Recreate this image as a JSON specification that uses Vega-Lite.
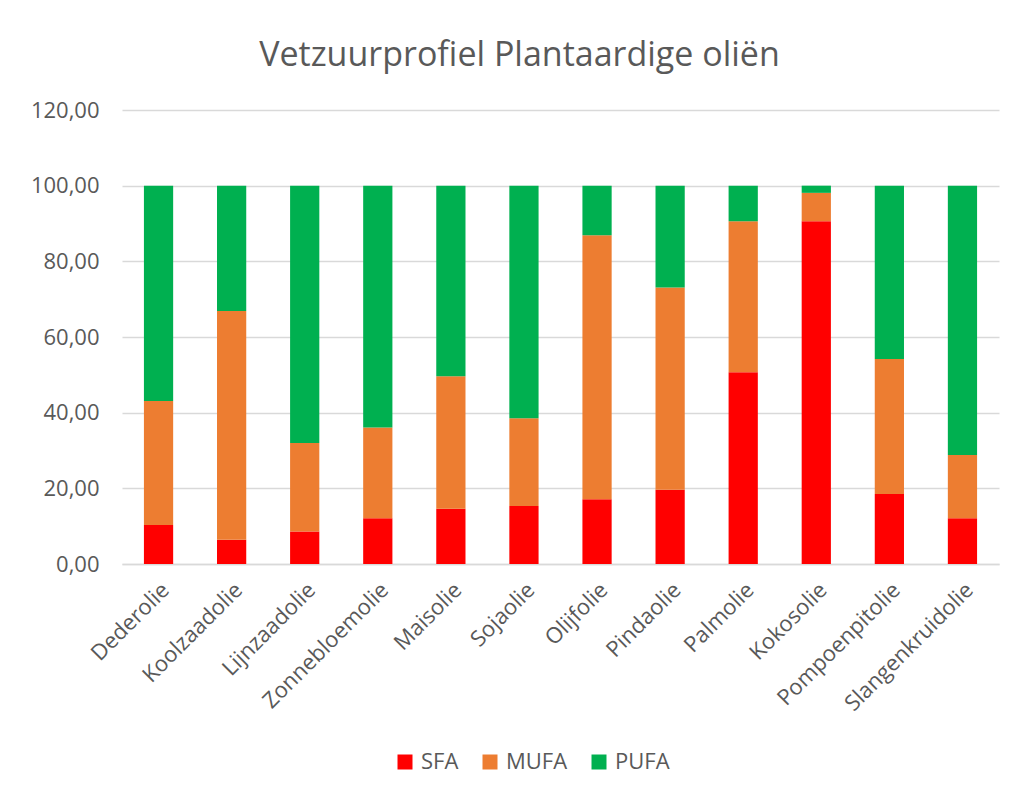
{
  "$schema": "https://vega.github.io/schema/vega-lite/v6.json",
  "width": 877,
  "height": 454,
  "autosize": {"type": "none"},
  "padding": {"left": 122, "top": 110, "right": 19, "bottom": 236},
  "background": "white",
  "config": {
    "locale": {"number": {"decimal": ",", "thousands": ".", "grouping": [3], "currency": ["€", ""]}},
    "font": "Open Sans",
    "view": {"stroke": null}
  },
  "title": {
    "text": "Vetzuurprofiel Plantaardige oliën",
    "fontSize": 34,
    "font": "Open Sans",
    "fontWeight": "normal",
    "color": "#595959",
    "anchor": "middle",
    "dx": -41,
    "offset": 26
  },
  "data": {
    "values": [
      {"olie": "Dederolie", "type": "SFA", "waarde": 10.3},
      {"olie": "Dederolie", "type": "MUFA", "waarde": 32.8},
      {"olie": "Dederolie", "type": "PUFA", "waarde": 56.9},
      {"olie": "Koolzaadolie", "type": "SFA", "waarde": 6.4},
      {"olie": "Koolzaadolie", "type": "MUFA", "waarde": 60.5},
      {"olie": "Koolzaadolie", "type": "PUFA", "waarde": 33.1},
      {"olie": "Lijnzaadolie", "type": "SFA", "waarde": 8.6},
      {"olie": "Lijnzaadolie", "type": "MUFA", "waarde": 23.4},
      {"olie": "Lijnzaadolie", "type": "PUFA", "waarde": 68.0},
      {"olie": "Zonnebloemolie", "type": "SFA", "waarde": 12.1},
      {"olie": "Zonnebloemolie", "type": "MUFA", "waarde": 24.0},
      {"olie": "Zonnebloemolie", "type": "PUFA", "waarde": 63.9},
      {"olie": "Maisolie", "type": "SFA", "waarde": 14.6},
      {"olie": "Maisolie", "type": "MUFA", "waarde": 35.0},
      {"olie": "Maisolie", "type": "PUFA", "waarde": 50.4},
      {"olie": "Sojaolie", "type": "SFA", "waarde": 15.3},
      {"olie": "Sojaolie", "type": "MUFA", "waarde": 23.2},
      {"olie": "Sojaolie", "type": "PUFA", "waarde": 61.5},
      {"olie": "Olijfolie", "type": "SFA", "waarde": 17.1},
      {"olie": "Olijfolie", "type": "MUFA", "waarde": 69.8},
      {"olie": "Olijfolie", "type": "PUFA", "waarde": 13.1},
      {"olie": "Pindaolie", "type": "SFA", "waarde": 19.6},
      {"olie": "Pindaolie", "type": "MUFA", "waarde": 53.5},
      {"olie": "Pindaolie", "type": "PUFA", "waarde": 26.9},
      {"olie": "Palmolie", "type": "SFA", "waarde": 50.7},
      {"olie": "Palmolie", "type": "MUFA", "waarde": 39.9},
      {"olie": "Palmolie", "type": "PUFA", "waarde": 9.4},
      {"olie": "Kokosolie", "type": "SFA", "waarde": 90.6},
      {"olie": "Kokosolie", "type": "MUFA", "waarde": 7.5},
      {"olie": "Kokosolie", "type": "PUFA", "waarde": 1.9},
      {"olie": "Pompoenpitolie", "type": "SFA", "waarde": 18.5},
      {"olie": "Pompoenpitolie", "type": "MUFA", "waarde": 35.7},
      {"olie": "Pompoenpitolie", "type": "PUFA", "waarde": 45.8},
      {"olie": "Slangenkruidolie", "type": "SFA", "waarde": 12.1},
      {"olie": "Slangenkruidolie", "type": "MUFA", "waarde": 16.7},
      {"olie": "Slangenkruidolie", "type": "PUFA", "waarde": 71.2}
    ]
  },
  "transform": [
    {"calculate": "indexof(['SFA', 'MUFA', 'PUFA'], datum.type)", "as": "volgorde"}
  ],
  "mark": {"type": "bar"},
  "encoding": {
    "x": {
      "field": "olie",
      "type": "nominal",
      "sort": null,
      "scale": {"paddingInner": 0.6, "paddingOuter": 0.3},
      "axis": {
        "title": null,
        "labelAngle": -45,
        "labelFontSize": 22,
        "labelColor": "#595959",
        "labelFont": "Open Sans",
        "ticks": false,
        "domainColor": "#d9d9d9",
        "domainWidth": 1.5,
        "labelPadding": 15
      }
    },
    "y": {
      "field": "waarde",
      "type": "quantitative",
      "stack": "zero",
      "scale": {"domain": [0, 120]},
      "axis": {
        "title": null,
        "values": [0, 20, 40, 60, 80, 100, 120],
        "format": ".2f",
        "labelFontSize": 22,
        "labelColor": "#595959",
        "labelFont": "Open Sans",
        "ticks": false,
        "domain": false,
        "gridColor": "#d9d9d9",
        "gridWidth": 1.5,
        "labelPadding": 23
      }
    },
    "color": {
      "field": "type",
      "type": "nominal",
      "sort": ["SFA", "MUFA", "PUFA"],
      "scale": {"domain": ["SFA", "MUFA", "PUFA"], "range": ["#FF0000", "#ED7D31", "#00B050"]},
      "legend": {
        "title": null,
        "orient": "none",
        "direction": "horizontal",
        "legendX": 272,
        "legendY": 641,
        "symbolType": "square",
        "symbolSize": 225,
        "symbolStrokeWidth": 0,
        "labelFontSize": 22,
        "labelColor": "#595959",
        "labelFont": "Open Sans",
        "columnPadding": 20,
        "labelOffset": 5
      }
    },
    "order": {"field": "volgorde", "type": "quantitative", "sort": "ascending"}
  }
}
